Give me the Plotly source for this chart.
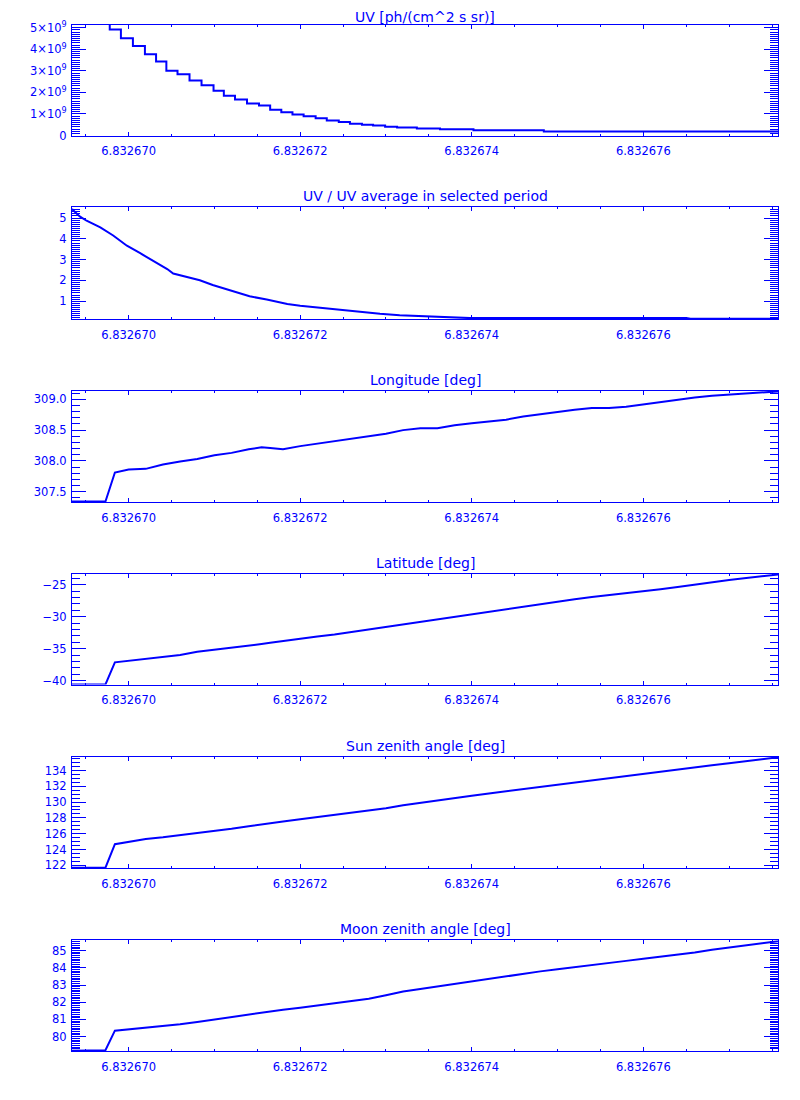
import plotly.graph_objects as go
from plotly.subplots import make_subplots

BLUE = "rgb(0,0,255)"
FONT = "DejaVu Sans"

titles = [
    "UV [ph/(cm^2 s sr)]",
    "UV / UV average in selected period",
    "Longitude [deg]",
    "Latitude [deg]",
    "Sun zenith angle [deg]",
    "Moon zenith angle [deg]",
]

# Panel 1: UV radiance, histogram steps (step start time, level)
uv_t = [6.83266934, 6.83266978, 6.83266991, 6.83267005, 6.83267019, 6.83267032,
        6.83267044, 6.83267057, 6.83267071, 6.83267085, 6.83267099, 6.83267111,
        6.83267124, 6.83267138, 6.83267152, 6.83267165, 6.83267178, 6.83267191,
        6.83267204, 6.83267218, 6.83267231, 6.83267245, 6.83267258, 6.83267272,
        6.83267285, 6.83267299, 6.83267313, 6.83267336, 6.83267363, 6.83267402,
        6.83267484, 6.83267757]
uv_v = [6.0e9, 4.92e9, 4.52e9, 4.15e9, 3.77e9, 3.43e9, 3.01e9, 2.84e9, 2.55e9,
        2.33e9, 2.08e9, 1.85e9, 1.67e9, 1.49e9, 1.39e9, 1.20e9, 1.08e9, 0.98e9,
        0.89e9, 0.80e9, 0.70e9, 0.63e9, 0.55e9, 0.50e9, 0.46e9, 0.41e9, 0.37e9,
        0.32e9, 0.285e9, 0.24e9, 0.19e9, 0.19e9]

# Panel 2: UV / average
ratio_t = [6.83266934, 6.83266943, 6.83266951, 6.83266967, 6.83266982, 6.83266998,
           6.83267013, 6.83267028, 6.83267045, 6.83267052, 6.83267068, 6.83267083,
           6.83267098, 6.83267122, 6.83267141, 6.83267161, 6.83267185, 6.83267200,
           6.83267223, 6.83267246, 6.83267270, 6.83267293, 6.83267316, 6.83267346,
           6.83267398, 6.83267650, 6.83267655, 6.83267757]
ratio_v = [5.43, 5.08, 4.87, 4.55, 4.16, 3.67, 3.32, 2.95, 2.55, 2.33, 2.17, 2.01,
           1.78, 1.48, 1.24, 1.08, 0.87, 0.78, 0.68, 0.59, 0.48, 0.40, 0.33, 0.27,
           0.19, 0.19, 0.16, 0.16]

# Panels 3-6: geometry on a common time grid
geo_t = [6.83266934, 6.83266973, 6.83266984, 6.83267000, 6.83267020, 6.83267040,
         6.83267060, 6.83267080, 6.83267100, 6.83267120, 6.83267140, 6.83267155,
         6.83267165, 6.83267180, 6.83267200, 6.83267220, 6.83267240, 6.83267260,
         6.83267280, 6.83267300, 6.83267320, 6.83267340, 6.83267360, 6.83267380,
         6.83267400, 6.83267420, 6.83267440, 6.83267460, 6.83267480, 6.83267500,
         6.83267520, 6.83267540, 6.83267560, 6.83267580, 6.83267600, 6.83267620,
         6.83267640, 6.83267660, 6.83267680, 6.83267700, 6.83267720, 6.83267740,
         6.83267757]
lon = [307.34, 307.34, 307.81, 307.86, 307.87, 307.94, 307.99, 308.03, 308.09,
       308.13, 308.19, 308.22, 308.21, 308.19, 308.24, 308.28, 308.31, 308.36,
       308.40, 308.44, 308.50, 308.53, 308.53, 308.58, 308.61, 308.64, 308.67,
       308.72, 308.76, 308.80, 308.83, 308.86, 308.86, 308.88, 308.92, 308.95,
       308.99, 309.03, 309.06, 309.08, 309.10, 309.12, 309.13]
lat = [-40.6, -40.6, -37.14, -36.9, -36.58, -36.31, -35.98, -35.5, -35.2, -34.91,
       -34.55, -34.27, -34.08, -33.8, -33.39, -33.1, -32.8, -32.4, -32.05, -31.7,
       -31.2, -30.85, -30.48, -30.05, -29.63, -29.2, -28.82, -28.45, -28.05,
       -27.63, -27.25, -26.92, -26.64, -26.36, -26.05, -25.7, -25.35, -24.96,
       -24.6, -24.25, -23.95, -23.65, -23.4]
sun = [121.7, 121.7, 124.67, 125.0, 125.33, 125.55, 125.8, 126.06, 126.34, 126.63,
       126.95, 127.2, 127.33, 127.55, 127.83, 128.1, 128.35, 128.63, 128.9, 129.23,
       129.6, 129.88, 130.18, 130.5, 130.8, 131.1, 131.38, 131.67, 131.95, 132.2,
       132.47, 132.78, 133.05, 133.3, 133.57, 133.85, 134.15, 134.4, 134.68,
       134.92, 135.18, 135.44, 135.68]
moon = [79.18, 79.22, 80.35, 80.42, 80.52, 80.6, 80.72, 80.85, 81.0, 81.15, 81.3,
        81.41, 81.47, 81.57, 81.68, 81.81, 81.94, 82.07, 82.2, 82.4, 82.62, 82.77,
        82.92, 83.07, 83.22, 83.37, 83.52, 83.66, 83.79, 83.92, 84.05, 84.18, 84.3,
        84.4, 84.52, 84.63, 84.74, 84.88, 85.05, 85.17, 85.31, 85.45, 85.54]

x_range = [6.83266934, 6.83267757]
y_ranges = [[0, 5.13e9], [0.15, 5.51], [307.333, 309.135], [-40.63, -23.33],
            [121.66, 135.77], [79.17, 85.6]]
y_dticks = [1e9, 1, 0.5, 5, 2, 1]
y_minor = [1e8, 0.1, 0.1, 1, 0.5, 0.1]
y_formats = [None, "d", ".1f", "d", "d", "d"]
uv_tickvals = [0, 1e9, 2e9, 3e9, 4e9, 5e9]
uv_ticktext = ["0", "1\u00d710<sup>9</sup>", "2\u00d710<sup>9</sup>",
               "3\u00d710<sup>9</sup>", "4\u00d710<sup>9</sup>", "5\u00d710<sup>9</sup>"]

# panel domains (paper fractions), top to bottom
domains = [[0.8923, 1.0], [0.7135, 0.8222], [0.5352, 0.6432],
           [0.3571, 0.4648], [0.1784, 0.2870], [0.0, 0.1080]]
title_shift = [-2, 1, 1, 1, 1, 1]

fig = make_subplots(rows=6, cols=1)

series = [(uv_t, uv_v, "hv"), (ratio_t, ratio_v, "linear"), (geo_t, lon, "linear"),
          (geo_t, lat, "linear"), (geo_t, sun, "linear"), (geo_t, moon, "linear")]

for i, (xs, ys, shape) in enumerate(series):
    fig.add_trace(go.Scatter(x=xs, y=ys, mode="lines",
                             line=dict(color=BLUE, width=2, shape=shape),
                             showlegend=False, hoverinfo="skip"),
                  row=i + 1, col=1)

tickfont = dict(family=FONT, size=11.5, color=BLUE)
for i in range(6):
    n = "" if i == 0 else str(i + 1)
    xa = dict(range=x_range, domain=[0, 1], showgrid=False, zeroline=False,
              showline=True, linecolor=BLUE, linewidth=1, mirror="ticks",
              ticks="inside", ticklen=4, tickcolor=BLUE, tickwidth=1,
              tickmode="linear", tick0=6.832670, dtick=2e-6, tickformat=".6f",
              tickfont=tickfont, ticklabelstandoff=5,
              minor=dict(ticks="inside", ticklen=2, tickcolor=BLUE,
                         dtick=5e-7, tick0=6.832670, showgrid=False))
    ya = dict(range=y_ranges[i], domain=domains[i], showgrid=False, zeroline=False,
              showline=True, linecolor=BLUE, linewidth=1, mirror="ticks",
              ticks="inside", ticklen=14, tickcolor=BLUE, tickwidth=1,
              tickfont=tickfont, ticklabelstandoff=2,
              minor=dict(ticks="inside", ticklen=8, tickcolor=BLUE,
                         dtick=y_minor[i], tick0=0, showgrid=False))
    if i == 0:
        ya.update(tickmode="array", tickvals=uv_tickvals, ticktext=uv_ticktext)
    else:
        ya.update(tickmode="linear", tick0=0, dtick=y_dticks[i],
                  tickformat=y_formats[i])
    fig.layout["xaxis" + n].update(xa)
    fig.layout["yaxis" + n].update(ya)
    fig.add_annotation(text=titles[i], xref="paper", yref="paper",
                       x=0.5, y=domains[i][1], xanchor="center", yanchor="bottom",
                       yshift=title_shift[i], showarrow=False,
                       font=dict(family=FONT, size=14, color=BLUE))

# the page body adds an 8 px offset, so margins are shifted to compensate
fig.update_layout(width=800, height=1100, plot_bgcolor="white",
                  paper_bgcolor="white",
                  margin=dict(l=64, r=30, t=15, b=57, pad=0))

fig.write_html("out.html")
